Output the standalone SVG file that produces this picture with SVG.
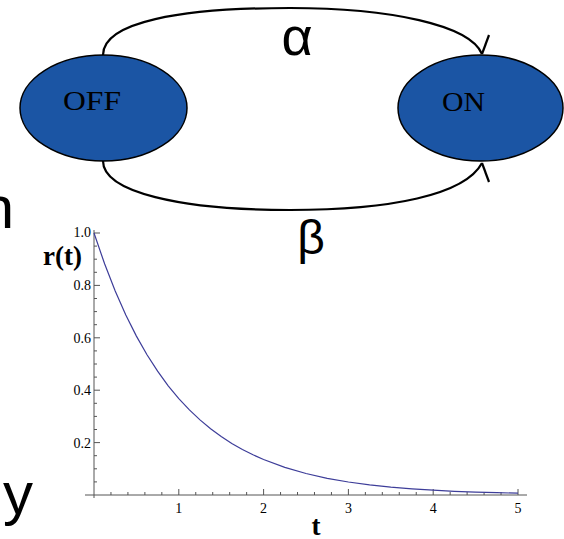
<svg xmlns="http://www.w3.org/2000/svg" width="564" height="539" viewBox="0 0 564 539">
<style>
.node{fill:#1b55a4;stroke:#000;stroke-width:1.5}
.lbl{font-family:"Liberation Serif",serif;fill:#000}
.edge{fill:none;stroke:#000;stroke-width:2.2}
.greek{font-family:"Liberation Sans","DejaVu Sans",sans-serif;fill:#000;text-anchor:middle}
.ax{stroke:#555;stroke-width:1;fill:none}
.tk{font-family:"Liberation Serif",serif;font-size:14px;fill:#000}
.big{font-family:"Liberation Sans",Arial,sans-serif;font-size:60px;fill:#000}
</style>
<rect width="564" height="539" fill="#fff"/>
<text class="big" x="14" y="228" text-anchor="end">n</text>
<text class="big" x="33" y="514" text-anchor="end">y</text>
<g id="connectors">
<path class="edge" d="M103,55 C103,22 180,8 290,8 C390,8 470,25 482,54"/>
<polyline class="edge" points="489,35 482,54"/>
<path class="edge" d="M103,161 C103,192 180,210 290,210 C390,210 465,195 482,163"/>
<polyline class="edge" points="489,182 482,163"/>
<text class="greek" x="297" y="55" font-size="54">α</text>
<text class="greek" x="311" y="254" font-size="48">β</text>
</g>
<g id="off">
<ellipse class="node" cx="103.5" cy="108" rx="83.5" ry="53"/>
<text class="lbl" x="63" y="110" font-size="28" textLength="58" lengthAdjust="spacingAndGlyphs">OFF</text>
</g>
<g id="on">
<ellipse class="node" cx="480.5" cy="108" rx="82.5" ry="53"/>
<text class="lbl" x="442" y="111" font-size="28" textLength="43" lengthAdjust="spacingAndGlyphs">ON</text>
</g>
<g id="plot">
<path class="ax" d="M94,230 V498 M85,495 H527"/>
<path class="ax" d="M94,481.9h3M94,468.8h3M94,455.7h3M94,442.6h6M94,429.5h3M94,416.4h3M94,403.3h3M94,390.2h6M94,377.1h3M94,364h3M94,350.9h3M94,337.8h6M94,324.7h3M94,311.6h3M94,298.5h3M94,285.4h6M94,272.3h3M94,259.2h3M94,246.1h3M94,233h6"/>
<path class="ax" d="M110.96,495v-3M127.92,495v-3M144.88,495v-3M161.84,495v-3M178.8,495v-6M195.76,495v-3M212.72,495v-3M229.68,495v-3M246.64,495v-3M263.6,495v-6M280.56,495v-3M297.52,495v-3M314.48,495v-3M331.44,495v-3M348.4,495v-6M365.36,495v-3M382.32,495v-3M399.28,495v-3M416.24,495v-3M433.2,495v-6M450.16,495v-3M467.12,495v-3M484.08,495v-3M501.04,495v-3M518,495v-6"/>
<polyline fill="none" stroke="#3d3d99" stroke-width="1.2" points="94,233 104.6,263.8 115.2,291 125.8,314.9 136.4,336.1 147,354.8 157.6,371.2 168.2,385.8 178.8,398.6 189.4,409.9 200,419.9 210.6,428.8 221.2,436.5 231.8,443.4 242.4,449.5 253,454.8 263.6,459.5 284.8,467.4 306,473.5 327.2,478.3 348.4,482 369.6,484.8 390.8,487.1 412,488.8 433.2,490.2 454.4,491.3 475.6,492.1 496.8,492.7 518,493.2"/>
<g class="tk" text-anchor="end">
<text x="91" y="237">1.0</text>
<text x="91" y="290">0.8</text>
<text x="91" y="343">0.6</text>
<text x="91" y="395">0.4</text>
<text x="91" y="448">0.2</text>
</g>
<g class="tk" text-anchor="middle">
<text x="178.8" y="513">1</text>
<text x="263.6" y="513">2</text>
<text x="348.4" y="513">3</text>
<text x="433.2" y="513">4</text>
<text x="518" y="513">5</text>
</g>
<text class="lbl" x="43" y="265" font-size="27" font-weight="bold">r(t)</text>
<text class="lbl" x="316" y="535" font-size="27" font-weight="bold" text-anchor="middle">t</text>
</g>
</svg>
